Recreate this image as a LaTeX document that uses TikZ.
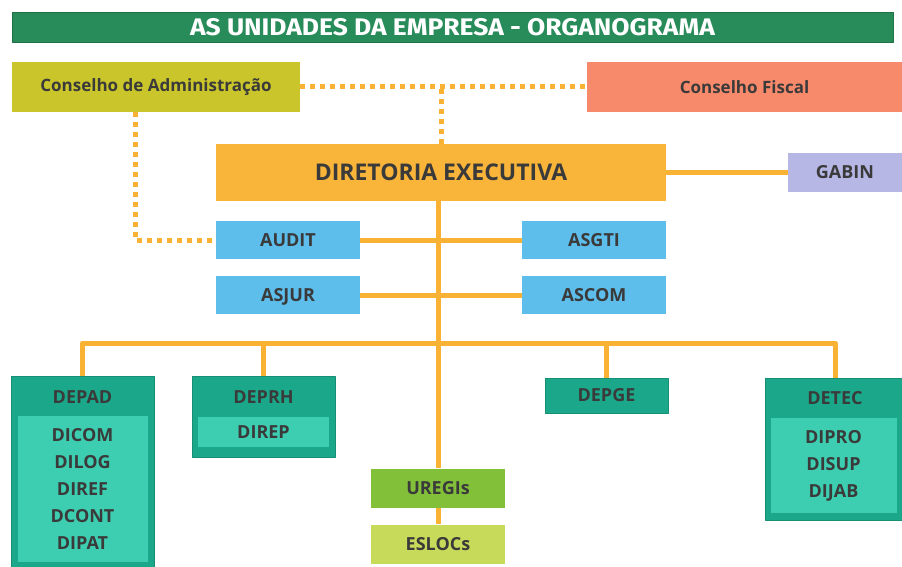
\documentclass[tikz,border=0pt]{standalone}
\usepackage{fontspec}
\setmainfont{Open Sans}
\newfontfamily\titulofont[FakeStretch=1.1]{Fira Sans}
\usetikzlibrary{positioning}
\definecolor{titlegreen}{RGB}{40,140,90}
\definecolor{conselho}{RGB}{201,197,42}
\definecolor{fiscal}{RGB}{248,138,108}
\definecolor{diretoria}{RGB}{249,180,58}
\definecolor{linha}{RGB}{249,178,51}
\definecolor{gabin}{RGB}{183,183,230}
\definecolor{assessoria}{RGB}{93,189,235}
\definecolor{depto}{RGB}{27,168,138}
\definecolor{divisao}{RGB}{61,205,176}
\definecolor{uregi}{RGB}{130,192,58}
\definecolor{esloc}{RGB}{200,218,90}
\definecolor{texto}{RGB}{58,58,58}
\tikzset{
  caixa/.style={rectangle, inner sep=0pt, text=texto, font=\bfseries\fontsize{18}{20}\selectfont},
  assess/.style={caixa, fill=assessoria, minimum width=144pt, minimum height=38pt, text depth=0pt},
  dept/.style={caixa, fill=depto, draw=depto!85!black, line width=0.6pt},
  divbox/.style={caixa, fill=divisao, align=center, font=\bfseries\fontsize{18}{27}\selectfont},
  ligacao/.style={draw=linha, line width=5pt},
  pontos/.style={draw=linha, line width=5pt, dash pattern=on 5pt off 5pt}
}
\begin{document}
\begin{tikzpicture}[x=1pt, y=-1pt, line join=round]
  \useasboundingbox (0,0) rectangle (902,567);
  % cabecalho
  \node[rectangle, fill=titlegreen, draw=titlegreen!80!black, minimum width=881pt, minimum height=30pt,
        text=white, font=\titulofont\bfseries\fontsize{24}{26}\selectfont] (titulo) at (452.5,27) {AS UNIDADES DA EMPRESA - ORGANOGRAMA};
  % conselhos
  \node[caixa, fill=conselho, minimum width=288pt, minimum height=50pt, font=\bfseries\fontsize{17}{20}\selectfont] (ca) at (156,87) {Conselho de Administração};
  \node[caixa, fill=fiscal, minimum width=315pt, minimum height=50pt, font=\bfseries\fontsize{17}{20}\selectfont] (cf) at (744.5,87) {Conselho Fiscal};
  \node[caixa, fill=diretoria, minimum width=450pt, minimum height=57pt, font=\bfseries\fontsize{23}{26}\selectfont] (de) at (441,172.5) {DIRETORIA EXECUTIVA};
  \node[caixa, fill=gabin, minimum width=114pt, minimum height=38pt] (gabin) at (845,172.5) {GABIN};
  % assessorias
  \node[assess] (audit) at (288,240) {AUDIT};
  \node[assess] (asgti) at (594,240) {ASGTI};
  \node[assess] (asjur) at (288,295) {ASJUR};
  \node[assess] (ascom) at (594,295) {ASCOM};
  % departamentos
  \node[dept, minimum width=143pt, minimum height=191pt] (depad) at (82.5,471.5) {};
  \node[caixa] at ([yshift=-21pt]depad.north) {DEPAD};
  \node[divbox, minimum width=130pt, minimum height=146pt] (depaddiv) at (82.5,489) {DICOM\\DILOG\\DIREF\\DCONT\\DIPAT};
  \node[dept, minimum width=143pt, minimum height=81pt] (deprh) at (263.5,416.5) {};
  \node[caixa] at ([yshift=-21pt]deprh.north) {DEPRH};
  \node[divbox, minimum width=131pt, minimum height=30pt] (deprhdiv) at (263.5,432) {DIREP};
  \node[dept, minimum width=123pt, minimum height=35pt] (depge) at (606.5,395.5) {DEPGE};
  \node[dept, minimum width=140pt, minimum height=142pt] (detec) at (835,449) {};
  \node[caixa] at ([yshift=-20pt]detec.north) {DETEC};
  \node[divbox, minimum width=126pt, minimum height=95pt] (detecdiv) at (833.5,465.5) {DIPRO\\DISUP\\DIJAB};
  \node[caixa, fill=uregi, minimum width=134pt, minimum height=39pt] (uregis) at (438,488) {UREGIs};
  \node[caixa, fill=esloc, minimum width=134pt, minimum height=39pt] (eslocs) at (438,544) {ESLOCs};
  % ligacoes
  \coordinate (bus) at (438,343);
  \path[ligacao] (de.east) -- (gabin.west);
  \path[ligacao] (de.south -| uregis.north) -- (uregis.north);
  \path[ligacao] (audit.east) -- (asgti.west);
  \path[ligacao] (asjur.east) -- (ascom.west);
  \path[ligacao] (depad.north) |- (bus) -| (detec.north);
  \path[ligacao] (deprh.north) -- (deprh.north |- bus);
  \path[ligacao] (depge.north) -- (depge.north |- bus);
  \path[ligacao] (uregis.south) -- (eslocs.north);
  \path[pontos] (ca.east) -- (cf.west);
  \path[pontos] (de.north) -- (de.north |- ca.east);
  \path[pontos] ([xshift=-21pt]ca.south) |- (audit.west);
\end{tikzpicture}
\end{document}
